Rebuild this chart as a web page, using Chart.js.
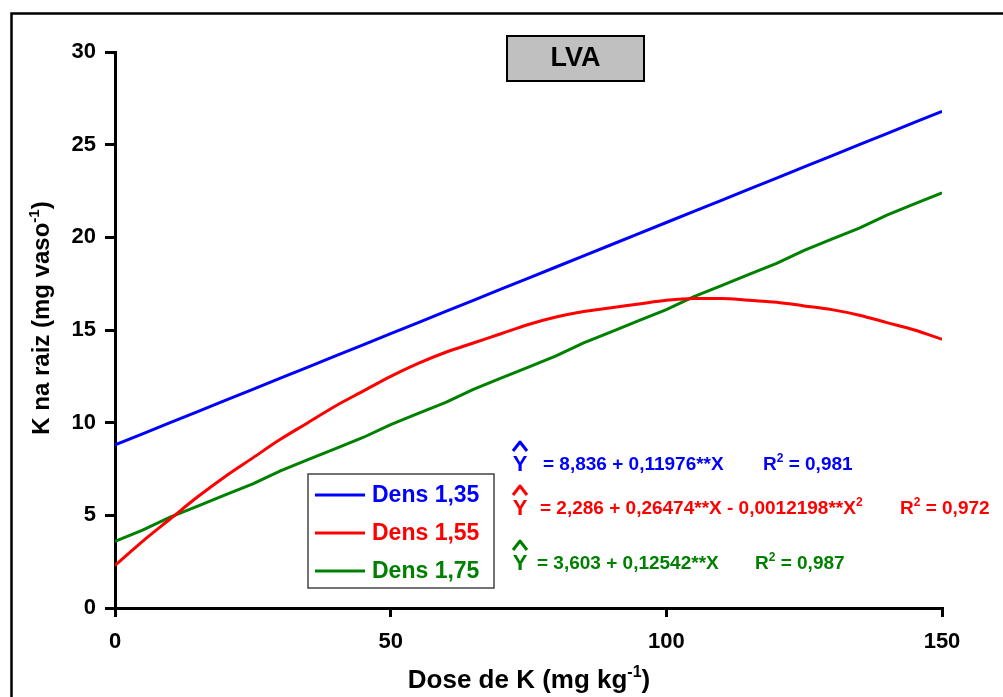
<!DOCTYPE html>
<html>
<head>
<meta charset="utf-8">
<script src="https://cdn.jsdelivr.net/npm/chart.js@4.4.1/dist/chart.umd.min.js"></script>
<style>
  html, body { margin: 0; padding: 0; background: #fff; }
  #wrap { width: 1003px; height: 697px; position: relative; }
</style>
</head>
<body>
<div id="wrap"><canvas id="c" width="1003" height="697"></canvas></div>
<script>
// ---- data ----
const doses = [0, 5, 10, 15, 20, 25, 30, 35, 40, 45, 50, 55, 60, 65, 70, 75, 80, 85, 90, 95, 100, 105, 110, 115, 120, 125, 130, 135, 140, 145, 150];
const dens135 = [8.8, 9.4, 10.0, 10.6, 11.2, 11.8, 12.4, 13.0, 13.6, 14.2, 14.8, 15.4, 16.0, 16.6, 17.2, 17.8, 18.4, 19.0, 19.6, 20.2, 20.8, 21.4, 22.0, 22.6, 23.2, 23.8, 24.4, 25.0, 25.6, 26.2, 26.8];
const dens155 = [2.3, 3.6, 4.8, 6.0, 7.1, 8.1, 9.1, 10.0, 10.9, 11.7, 12.5, 13.2, 13.8, 14.3, 14.8, 15.3, 15.7, 16.0, 16.2, 16.4, 16.6, 16.7, 16.7, 16.6, 16.5, 16.3, 16.1, 15.8, 15.4, 15.0, 14.5];
const dens175 = [3.6, 4.2, 4.9, 5.5, 6.1, 6.7, 7.4, 8.0, 8.6, 9.2, 9.9, 10.5, 11.1, 11.8, 12.4, 13.0, 13.6, 14.3, 14.9, 15.5, 16.1, 16.8, 17.4, 18.0, 18.6, 19.3, 19.9, 20.5, 21.2, 21.8, 22.4];
const seriesNames = ['Dens 1,35', 'Dens 1,55', 'Dens 1,75'];
const seriesColors = ['#0000FF', '#FF0000', '#008000'];
const xTicks = [0, 50, 100, 150];
const yTicks = [0, 5, 10, 15, 20, 25, 30];

const FONT = '"Liberation Sans", Arial, sans-serif';

function pts(vals) { return doses.map((d, i) => ({ x: d, y: vals[i] })); }

function drawRich(ctx, x, y, segs, size) {
  ctx.textBaseline = 'alphabetic';
  ctx.textAlign = 'left';
  let cx = x;
  segs.forEach(s => {
    if (s.sup) {
      ctx.font = 'bold ' + Math.round(size * 0.62) + 'px ' + FONT;
      ctx.fillText(s.t, cx, y - size * 0.42);
    } else {
      ctx.font = 'bold ' + size + 'px ' + FONT;
      ctx.fillText(s.t, cx, y);
    }
    cx += ctx.measureText(s.t).width;
  });
  return cx - x;
}
function richWidth(ctx, segs, size) {
  let w = 0;
  segs.forEach(s => {
    ctx.font = 'bold ' + (s.sup ? Math.round(size * 0.62) : size) + 'px ' + FONT;
    w += ctx.measureText(s.t).width;
  });
  return w;
}

const decor = {
  id: 'decor',
  beforeDraw(chart) {
    const ctx = chart.ctx;
    ctx.save();
    ctx.fillStyle = '#fff';
    ctx.fillRect(0, 0, chart.width, chart.height);
    ctx.restore();
  },
  afterDraw(chart) {
    const ctx = chart.ctx;
    ctx.save();
    // outer frame
    ctx.strokeStyle = '#000';
    ctx.lineWidth = 2.5;
    ctx.strokeRect(11.5, 13.5, 1010, 720);

    // title box
    ctx.fillStyle = '#C0C0C0';
    ctx.fillRect(507, 36, 137, 45);
    ctx.lineWidth = 2;
    ctx.strokeStyle = '#000';
    ctx.strokeRect(507, 36, 137, 45);
    ctx.fillStyle = '#000';
    ctx.font = 'bold 27px ' + FONT;
    ctx.textAlign = 'center';
    ctx.textBaseline = 'middle';
    ctx.fillText('LVA', 575.5, 59);

    // x axis title
    const xt = [{ t: 'Dose de K (mg kg' }, { t: '-1', sup: true }, { t: ')' }];
    const xw = richWidth(ctx, xt, 26);
    ctx.fillStyle = '#000';
    drawRich(ctx, 529 - xw / 2, 688, xt, 26);

    // y axis title
    const yt = [{ t: 'K na raiz (mg vaso' }, { t: '-1', sup: true }, { t: ')' }];
    const yw = richWidth(ctx, yt, 24);
    ctx.save();
    ctx.translate(49, 318);
    ctx.rotate(-Math.PI / 2);
    drawRich(ctx, -yw / 2, 0, yt, 24);
    ctx.restore();

    // legend box
    ctx.lineWidth = 1.5;
    ctx.strokeStyle = '#444';
    ctx.fillStyle = '#fff';
    ctx.fillRect(308, 474, 186, 114);
    ctx.strokeRect(308, 474, 186, 114);
    const ly = [495, 533, 571];
    seriesNames.forEach((n, i) => {
      ctx.strokeStyle = seriesColors[i];
      ctx.lineWidth = 3;
      ctx.beginPath();
      ctx.moveTo(315, ly[i]);
      ctx.lineTo(365, ly[i]);
      ctx.stroke();
      ctx.fillStyle = seriesColors[i];
      ctx.font = 'bold 23px ' + FONT;
      ctx.textAlign = 'left';
      ctx.textBaseline = 'middle';
      ctx.fillText(n, 372, ly[i] + 1);
    });

    // equations
    const eqs = [
      { y: 470, yx: 520, eqX: 543, eq: [{ t: '= 8,836 + 0,11976**X' }], rX: 763, r: [{ t: 'R' }, { t: '2', sup: true }, { t: ' = 0,981' }] },
      { y: 514, yx: 520, eqX: 540, eq: [{ t: '= 2,286 + 0,26474**X - 0,0012198**X' }, { t: '2', sup: true }], rX: 900, r: [{ t: 'R' }, { t: '2', sup: true }, { t: ' = 0,972' }] },
      { y: 569, yx: 520, eqX: 537, eq: [{ t: '= 3,603 + 0,12542**X' }], rX: 755, r: [{ t: 'R' }, { t: '2', sup: true }, { t: ' = 0,987' }] }
    ];
    eqs.forEach((e, i) => {
      ctx.fillStyle = seriesColors[i];
      ctx.strokeStyle = seriesColors[i];
      // Y with hat
      ctx.font = 'bold 22px ' + FONT;
      ctx.textAlign = 'center';
      ctx.textBaseline = 'alphabetic';
      ctx.fillText('Y', e.yx, e.y + 1);
      ctx.lineWidth = 3;
      ctx.lineJoin = 'round';
      ctx.beginPath();
      ctx.moveTo(e.yx - 7, e.y - 19);
      ctx.lineTo(e.yx, e.y - 28);
      ctx.lineTo(e.yx + 7, e.y - 19);
      ctx.stroke();
      drawRich(ctx, e.eqX, e.y, e.eq, 19);
      drawRich(ctx, e.rX, e.y, e.r, 19);
    });
    ctx.restore();
  }
};

new Chart(document.getElementById('c'), {
  type: 'line',
  data: {
    datasets: [
      { label: seriesNames[0], data: pts(dens135), borderColor: seriesColors[0], borderWidth: 3, pointRadius: 0, tension: 0, fill: false },
      { label: seriesNames[1], data: pts(dens155), borderColor: seriesColors[1], borderWidth: 3, pointRadius: 0, cubicInterpolationMode: 'monotone', fill: false },
      { label: seriesNames[2], data: pts(dens175), borderColor: seriesColors[2], borderWidth: 3, pointRadius: 0, tension: 0, fill: false }
    ]
  },
  options: {
    responsive: false,
    animation: false,
    devicePixelRatio: 1,
    layout: { padding: { left: 55, top: 52, right: 61, bottom: 0 } },
    plugins: { legend: { display: false }, title: { display: false }, tooltip: { enabled: false } },
    scales: {
      x: {
        type: 'linear', min: 0, max: 150,
        afterBuildTicks(scale) { scale.ticks = xTicks.map(v => ({ value: v })); },
        afterFit(scale) { scale.height = 89; },
        grid: { drawOnChartArea: false, drawTicks: true, tickLength: 9, color: '#000', lineWidth: 3 },
        border: { display: true, color: '#000', width: 3 },
        ticks: { color: '#000', font: { family: FONT, size: 22, weight: 'bold' }, padding: 12, maxRotation: 0 }
      },
      y: {
        type: 'linear', min: 0, max: 30,
        afterBuildTicks(scale) { scale.ticks = yTicks.map(v => ({ value: v })); },
        afterFit(scale) { scale.width = 60; },
        grid: { drawOnChartArea: false, drawTicks: true, tickLength: 10, color: '#000', lineWidth: 3 },
        border: { display: true, color: '#000', width: 3 },
        ticks: { color: '#000', font: { family: FONT, size: 22, weight: 'bold' }, padding: 9 }
      }
    }
  },
  plugins: [decor]
});
</script>
</body>
</html>
